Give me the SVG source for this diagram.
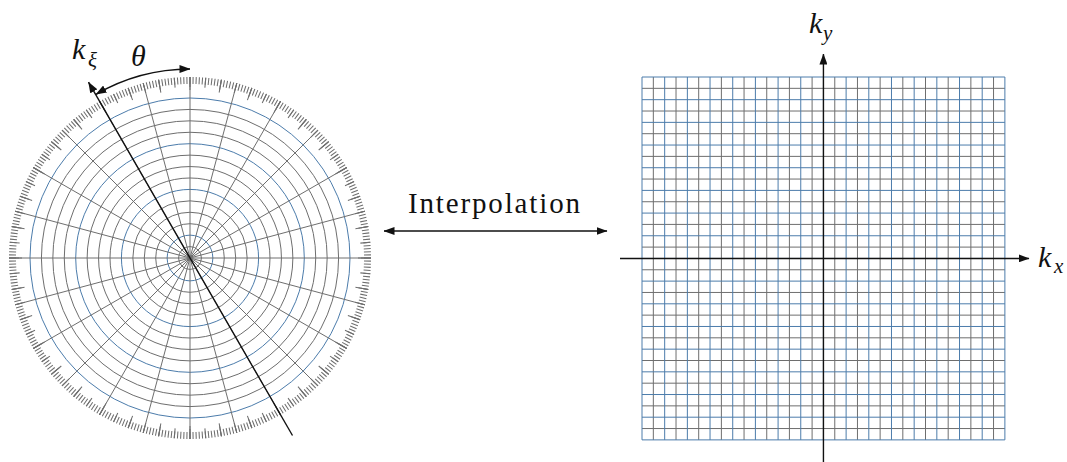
<svg xmlns="http://www.w3.org/2000/svg" width="1067" height="462" viewBox="0 0 1067 462">
<style>
.g{stroke:#6e6e6e;stroke-width:1;fill:none}
.b{stroke:#4c7cab;stroke-width:1;fill:none}
.t{stroke:#6e6e6e;fill:none}
.ax{stroke:#111;stroke-width:1.4;fill:none}
.lab{font-family:"Liberation Serif",serif;font-style:italic;fill:#111}
.txt{font-family:"Liberation Serif",serif;fill:#111}
</style>
<defs>
<marker id="ah" viewBox="0 0 11 8" refX="10.5" refY="4" markerWidth="11" markerHeight="8" markerUnits="userSpaceOnUse" orient="auto-start-reverse">
<path d="M0,0 L11,4 L0,8 z" fill="#111"/>
</marker>
</defs>
<rect width="1067" height="462" fill="#fff"/>

<g id="polar-grid" transform="translate(190,258)">
<g class="g">
<circle r="11.43"/><circle r="34.29"/><circle r="45.72"/><circle r="57.15"/><circle r="80.01"/><circle r="91.44"/><circle r="102.87"/><circle r="125.73"/><circle r="137.16"/><circle r="148.59"/>
</g>
<g class="b">
<circle r="22.86"/><circle r="68.58"/><circle r="114.3"/><circle r="160"/>
</g>
<path class="g" d="M-181 0H181M-174.83 -46.85L174.83 46.85M-156.75 -90.5L156.75 90.5M-127.99 -127.99L127.99 127.99M-90.5 -156.75L90.5 156.75M-46.85 -174.83L46.85 174.83M0 -181V181M46.85 -174.83L-46.85 174.83M90.5 -156.75L-90.5 156.75M127.99 -127.99L-127.99 127.99M156.75 -90.5L-156.75 90.5M174.83 -46.85L-174.83 46.85"/>
<circle class="t" r="177.5" pathLength="360" stroke-width="7" stroke-dasharray="0.34 0.66" stroke-dashoffset="0.17"/>
<circle class="t" r="176" pathLength="360" stroke-width="10" stroke-dasharray="0.34 4.66" stroke-dashoffset="0.17"/>
<circle class="t" r="174.5" pathLength="360" stroke-width="13" stroke-dasharray="0.34 9.66" stroke-dashoffset="0.17"/>
</g>

<g id="cartesian-grid">
<path class="g" d="M653.34 77V439.88M676.02 77V439.88M698.7 77V439.88M721.38 77V439.88M744.06 77V439.88M766.74 77V439.88M789.42 77V439.88M812.1 77V439.88M834.78 77V439.88M857.46 77V439.88M880.14 77V439.88M902.82 77V439.88M925.5 77V439.88M948.18 77V439.88M970.86 77V439.88M993.54 77V439.88M642 88.34H1004.88M642 111.02H1004.88M642 133.7H1004.88M642 156.38H1004.88M642 179.06H1004.88M642 201.74H1004.88M642 224.42H1004.88M642 247.1H1004.88M642 269.78H1004.88M642 292.46H1004.88M642 315.14H1004.88M642 337.82H1004.88M642 360.5H1004.88M642 383.18H1004.88M642 405.86H1004.88M642 428.54H1004.88"/>
<path class="b" d="M642 77V439.88M664.68 77V439.88M687.36 77V439.88M710.04 77V439.88M732.72 77V439.88M755.4 77V439.88M778.08 77V439.88M800.76 77V439.88M823.44 77V439.88M846.12 77V439.88M868.8 77V439.88M891.48 77V439.88M914.16 77V439.88M936.84 77V439.88M959.52 77V439.88M982.2 77V439.88M1004.88 77V439.88M642 77H1004.88M642 99.68H1004.88M642 122.36H1004.88M642 145.04H1004.88M642 167.72H1004.88M642 190.4H1004.88M642 213.08H1004.88M642 235.76H1004.88M642 258.44H1004.88M642 281.12H1004.88M642 303.8H1004.88M642 326.48H1004.88M642 349.16H1004.88M642 371.84H1004.88M642 394.52H1004.88M642 417.2H1004.88M642 439.88H1004.88"/>
</g>

<g id="connectors">
<path id="k-xi-axis" class="ax" d="M292.5 435.5L88.5 82.2" marker-end="url(#ah)"/>
<path id="theta-arc" class="ax" d="M96 94.3A189 189 0 0 1 190 69" marker-start="url(#ah)" marker-end="url(#ah)"/>
<path id="interp-arrow" class="ax" d="M384 231H607" marker-start="url(#ah)" marker-end="url(#ah)"/>
<path id="kx-axis" class="ax" d="M620 258.44H1029" marker-end="url(#ah)"/>
<path id="ky-axis" class="ax" d="M823.44 462V54" marker-end="url(#ah)"/>
</g>

<g id="label-kxi"><text class="lab" x="72" y="59" font-size="30">k</text><text class="lab" x="88" y="67" font-size="21">ξ</text></g>
<g id="label-theta"><text class="lab" x="131" y="66" font-size="30">θ</text></g>
<g id="label-interpolation"><text class="txt" x="494" y="213" font-size="29" text-anchor="middle" textLength="172" lengthAdjust="spacing">Interpolation</text></g>
<g id="label-ky"><text class="lab" x="809" y="33" font-size="30">k</text><text class="lab" x="823" y="40" font-size="21">y</text></g>
<g id="label-kx"><text class="lab" x="1038" y="267" font-size="30">k</text><text class="lab" x="1054" y="273" font-size="21">x</text></g>
</svg>
